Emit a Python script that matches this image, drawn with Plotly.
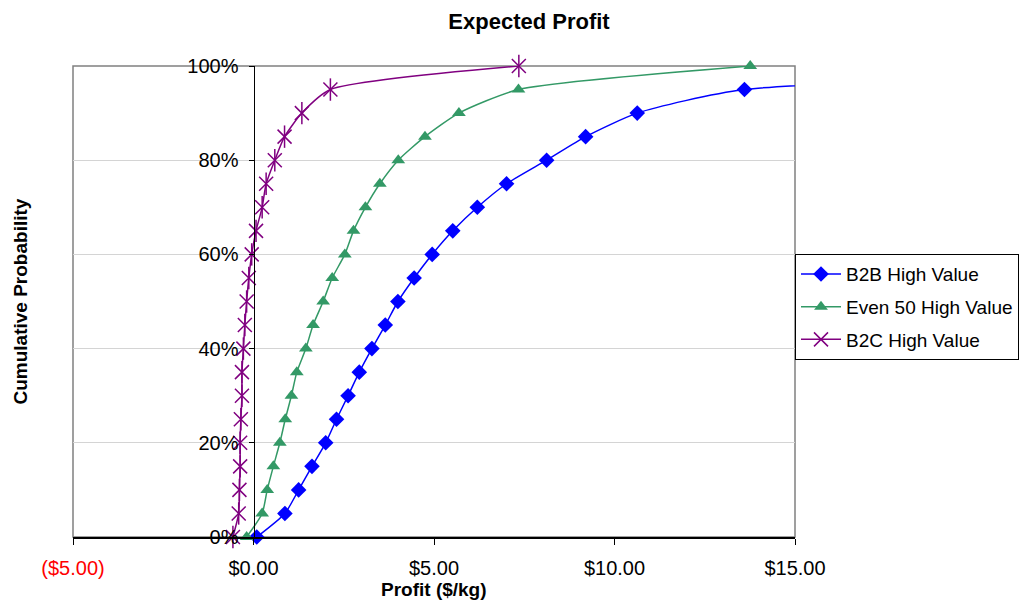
import plotly.graph_objects as go

# ---- data ----
probs = [0.00, 0.05, 0.10, 0.15, 0.20, 0.25, 0.30, 0.35, 0.40, 0.45, 0.50,
         0.55, 0.60, 0.65, 0.70, 0.75, 0.80, 0.85, 0.90, 0.95, 1.00]
b2b_profit = [0.09, 0.87, 1.25, 1.62, 2.00, 2.30, 2.62, 2.93, 3.28, 3.65, 4.00,
              4.45, 4.95, 5.52, 6.20, 7.01, 8.12, 9.20, 10.63, 13.60, 35.0]
even50_profit = [-0.19, 0.24, 0.38, 0.55, 0.73, 0.88, 1.05, 1.20, 1.45, 1.65, 1.93,
                 2.18, 2.53, 2.77, 3.10, 3.50, 4.01, 4.75, 5.69, 7.34, 13.76]
b2c_profit = [-0.57, -0.41, -0.39, -0.37, -0.37, -0.35, -0.32, -0.32, -0.28, -0.24, -0.19,
              -0.13, -0.05, 0.07, 0.24, 0.35, 0.59, 0.86, 1.34, 2.13, 7.35]

series_names = ["B2B High Value", "Even 50 High Value", "B2C High Value"]
x_tickvals = [-5, 0, 5, 10, 15]
x_ticktext = ['<span style="color:#FF0000">($5.00)</span>', "$0.00", "$5.00", "$10.00", "$15.00"]
y_tickvals = [0, 0.2, 0.4, 0.6, 0.8, 1.0]

FONT = "Arial, Liberation Sans, sans-serif"
SMOOTH = 0.6

fig = go.Figure()

fig.add_trace(go.Scatter(
    x=b2b_profit, y=probs, name=series_names[0], mode="lines+markers",
    line=dict(color="#0000FF", width=1.5, shape="spline", smoothing=SMOOTH),
    marker=dict(symbol="diamond", size=12, color="#0000FF"),
    legendgroup="b2b", cliponaxis=False,
))
fig.add_trace(go.Scatter(
    x=even50_profit, y=probs, name=series_names[1], mode="lines+markers",
    line=dict(color="#339966", width=1.5, shape="spline", smoothing=SMOOTH),
    marker=dict(symbol="triangle-up", size=12, color="#339966"),
    legendgroup="e50", cliponaxis=False,
))
fig.add_trace(go.Scatter(
    x=b2c_profit, y=probs, name=series_names[2], mode="lines+markers",
    line=dict(color="#800080", width=1.5, shape="spline", smoothing=SMOOTH),
    marker=dict(symbol="x-thin-open", size=14, color="#800080",
                line=dict(color="#800080", width=1.5)),
    legendgroup="b2c", cliponaxis=False,
))
fig.add_trace(go.Scatter(
    x=b2c_profit, y=probs, name=series_names[2], mode="markers",
    marker=dict(symbol="line-ns-open", size=16, color="#800080",
                line=dict(color="#800080", width=1.5)),
    legendgroup="b2c", showlegend=False, cliponaxis=False, hoverinfo="skip",
))

fig.update_layout(
    width=1036, height=602,
    margin=dict(l=73, r=241, t=66, b=65),
    paper_bgcolor="white", plot_bgcolor="white",
    font=dict(family=FONT, size=20, color="#000000"),
    title=dict(text="Expected Profit", x=529 / 1036, xref="container", xanchor="center",
               y=1 - 21 / 602, yref="container", yanchor="middle",
               font=dict(family=FONT, size=22, weight="bold", color="#000000")),
    showlegend=True,
    legend=dict(x=1.0, xanchor="left", y=(536.7 - 254) / 470.7, yanchor="top",
                bordercolor="#000000", borderwidth=1, bgcolor="white",
                font=dict(family=FONT, size=19, color="#000000"),
                tracegroupgap=5, itemwidth=40),
    xaxis=dict(range=[-5, 15], tickvals=x_tickvals, ticktext=x_ticktext,
               showgrid=False, zeroline=False, showline=True, linecolor="#000000", linewidth=1.5,
               ticks="outside", ticklen=6, tickcolor="#000000", tickwidth=1,
               ticklabelstandoff=6, tickfont=dict(family=FONT, size=20, color="#000000")),
    yaxis=dict(range=[0, 1], tickvals=y_tickvals, tickformat=".0%",
               anchor="free", position=0.25,
               showgrid=True, gridcolor="#D4D4D4", gridwidth=1, zeroline=False,
               showline=True, linecolor="#000000", linewidth=1,
               ticks="outside", ticklen=5, tickcolor="#000000", tickwidth=1,
               ticklabelstandoff=6, tickfont=dict(family=FONT, size=20, color="#000000")),
    shapes=[dict(type="rect", xref="paper", yref="paper", x0=0, x1=1, y0=0, y1=1,
                 line=dict(color="#808080", width=1.5), fillcolor="rgba(0,0,0,0)", layer="below")],
    annotations=[
        dict(text="Cumulative Probability", xref="paper", yref="paper",
             x=(20 - 73) / 722, y=0.5, xanchor="center", yanchor="middle",
             textangle=-90, showarrow=False,
             font=dict(family=FONT, size=19, weight="bold", color="#000000")),
        dict(text="Profit ($/kg)", xref="paper", yref="paper",
             x=0.5, y=(536.7 - 589) / 470.7, xanchor="center", yanchor="middle",
             showarrow=False,
             font=dict(family=FONT, size=19, weight="bold", color="#000000")),
    ],
)

fig.write_html("out.html", config={"displayModeBar": False})

# remove the browser's default page margin so the figure sits at the window's corner
with open("out.html", "r", encoding="utf-8") as f:
    html = f.read()
html = html.replace("<head>", "<head><style>html,body{margin:0;padding:0;overflow:hidden;}</style>", 1)
with open("out.html", "w", encoding="utf-8") as f:
    f.write(html)
